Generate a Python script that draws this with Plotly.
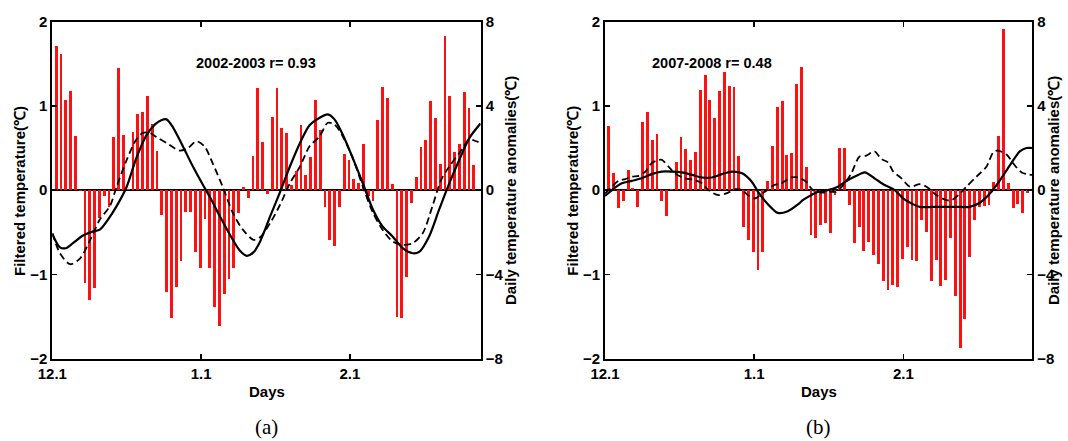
import plotly.graph_objects as go

# ---------------- data ----------------
tick_vals = [0, 31, 62]
tick_text = ["12.1", "1.1", "2.1"]

days = list(range(1, 89))

# Panel (a) 2002-2003 daily temperature anomalies (right axis, degC)
a_anom = [6.83, 6.46, 4.30, 4.73, 2.56, -0.06, -4.43, -5.22, -4.67, -1.33,
          -0.30, -0.80, 2.51, 5.79, 2.64, 0.04, 2.75, 3.63, 3.73, 4.49,
          3.16, 1.84, -1.19, -4.86, -6.08, -4.62, -3.35, -1.06, -1.06, -2.96,
          -3.72, -1.38, -3.72, -5.57, -6.46, -4.95, -4.24, -3.68, -1.10, 0.14,
          -0.38, 1.60, 4.86, 2.28, -0.18, 3.49, 4.87, 2.94, 2.70, 0.25,
          0.92, 3.08, 0.72, 1.57, 4.30, 2.86, -0.80, -2.37, -2.64, -0.78,
          1.71, 1.43, 0.52, 0.35, 2.17, -0.30, -0.54, 3.35, 4.90, 4.38,
          0.30, -6.02, -6.07, -4.11, -0.62, 0.62, 2.05, 2.37, 4.25, 3.41,
          1.24, 7.30, 4.49, 1.81, 2.18, 4.67, 3.90, 1.21]

# Panel (a) filtered temperature (left axis, degC)
a_solid_day = [0, 1.6, 2.8, 4.3, 6.4, 8.5, 9.9, 11.6, 13.4, 15.5, 17.5, 19.6,
               21.4, 22.7, 23.8, 25.2, 27.2, 29.3, 31.4, 32.8, 34.9, 37, 39.1,
               40.5, 41.9, 43.3, 45.4, 47.4, 49.5, 51.6, 53.6, 55.7, 57.4, 58.8,
               60.5, 62.6, 64.7, 66.8, 68.8, 70.9, 73, 75.1, 76.5, 78.5, 80.6,
               82.7, 84.8, 86.9, 89.2]
a_solid_val = [-0.52, -0.68, -0.69, -0.63, -0.54, -0.49, -0.47, -0.35, -0.19,
               0.04, 0.38, 0.65, 0.78, 0.83, 0.84, 0.74, 0.52, 0.28, 0.06,
               -0.08, -0.31, -0.53, -0.72, -0.78, -0.74, -0.61, -0.31, -0.03,
               0.28, 0.56, 0.77, 0.86, 0.90, 0.84, 0.66, 0.38, 0.08, -0.23,
               -0.43, -0.55, -0.69, -0.75, -0.73, -0.55, -0.23, 0.08, 0.36,
               0.62, 0.79]
a_dash_day = [0, 1.6, 3.7, 5.8, 7.9, 9.9, 12, 13.4, 15.5, 17.5, 18.9, 20.3,
              21.7, 23.8, 26.5, 28.3, 30, 31.7, 33.4, 35.5, 37.6, 39.7, 41.9,
              43.3, 45.4, 47.4, 49.5, 51.6, 53.6, 55.7, 57.4, 58.8, 60.5, 62.6,
              64.7, 66.8, 68.8, 70.9, 73, 75.1, 77.2, 79.2, 81, 82.7, 84.8,
              86.9, 88.3, 89.2]
a_dash_val = [-0.51, -0.75, -0.88, -0.81, -0.59, -0.35, -0.19, 0.04, 0.36,
              0.60, 0.68, 0.68, 0.63, 0.56, 0.47, 0.50, 0.58, 0.52, 0.32, 0.04,
              -0.27, -0.47, -0.59, -0.56, -0.39, -0.18, 0.08, 0.28, 0.52, 0.64,
              0.80, 0.78, 0.64, 0.38, 0.04, -0.27, -0.47, -0.61, -0.65, -0.63,
              -0.51, -0.19, 0.12, 0.28, 0.44, 0.60, 0.58, 0.56]

# Panel (b) 2007-2008 daily temperature anomalies (right axis, degC)
b_anom = [3.03, 0.81, -0.86, -0.54, 0.94, 0.10, -0.81, 3.25, 3.73, 2.40,
          2.68, -0.54, -1.21, 0.05, 1.33, 2.51, 1.95, 1.43, 1.81, 4.76,
          5.48, 4.30, 3.44, 4.73, 5.62, 4.96, 4.90, 1.63, -1.76, -2.37,
          -2.92, -3.79, -2.92, 0.43, 2.08, 3.94, 4.25, 1.67, 1.78, 5.05,
          5.84, 1.10, -2.14, -2.27, -1.65, -1.57, -2.05, -0.25, 2.00, 2.00,
          -0.71, -2.50, -1.74, -2.88, -2.46, -3.07, -3.50, -4.33, -4.75, -4.52,
          -4.60, -3.25, -2.71, -3.33, -3.38, -1.44, -1.97, -4.33, -3.31, -4.56,
          -4.27, -2.29, -5.02, -7.49, -6.12, -3.16, -1.41, -0.78, -0.77, -0.70,
          0.38, 2.56, 7.63, 0.35, -0.86, -0.66, -1.08, -0.14]

# Panel (b) filtered temperature (left axis, degC)
b_solid_day = [0, 1.45, 3.5, 5.6, 7.6, 9.7, 11.8, 13.9, 16, 18.1, 20.2, 22.2,
               24.3, 26.4, 28.5, 30.5, 31.8, 33.9, 35.9, 38, 40.1, 41.1, 42.2,
               44.3, 46.3, 48.4, 50.5, 52.6, 54, 56, 58.1, 60.2, 62, 64.1, 65.4,
               68.2, 71, 73.8, 75.8, 77.9, 80, 82.1, 84.2, 86.2, 87.6, 88.8]
b_solid_val = [-0.07, 0.0, 0.08, 0.11, 0.14, 0.19, 0.22, 0.22, 0.21, 0.18,
               0.15, 0.15, 0.19, 0.22, 0.20, 0.10, -0.02, -0.17, -0.27, -0.25,
               -0.17, -0.12, -0.08, -0.02, 0.0, 0.04, 0.12, 0.18, 0.21, 0.14,
               0.06, 0.0, -0.10, -0.17, -0.20, -0.20, -0.20, -0.20, -0.20,
               -0.15, -0.04, 0.12, 0.30, 0.46, 0.50, 0.50]
b_dash_day = [0, 1.45, 2.8, 4.2, 5.6, 7, 8.4, 9.7, 10.8, 11.8, 13.2, 14.5,
              16.6, 18.7, 20.2, 21.5, 23.6, 25.6, 27, 28.5, 29.7, 31.1, 33.2,
              35.2, 36.6, 38.7, 40.1, 41.8, 43.2, 44.9, 47, 48.1, 49.8, 51.2,
              52.9, 54.3, 56, 57.4, 58.8, 59.9, 61.6, 63.4, 65.4, 66.8, 68.9,
              71, 72, 73.8, 75.1, 77.2, 79.3, 80.7, 81.7, 83.5, 84.8, 86.6,
              88.8]
b_dash_val = [-0.04, 0.04, 0.11, 0.13, 0.16, 0.17, 0.22, 0.32, 0.35, 0.36,
              0.28, 0.20, 0.14, 0.12, 0.08, 0.0, -0.06, -0.03, 0.01, 0.0,
              -0.06, -0.10, -0.02, 0.06, 0.08, 0.15, 0.15, 0.10, 0.0, -0.03,
              -0.02, -0.02, 0.08, 0.20, 0.40, 0.41, 0.46, 0.37, 0.33, 0.22,
              0.14, 0.04, 0.07, 0.04, -0.06, -0.12, -0.12, -0.04, 0.04, 0.16,
              0.28, 0.45, 0.47, 0.42, 0.32, 0.21, 0.18]

panel_titles = ["2002-2003 r= 0.93", "2007-2008 r= 0.48"]
panel_letters = ["(a)", "(b)"]
left_title = "Filtered temperature(℃)"
right_title = "Daily temperature anomalies(℃)"
x_title = "Days"

# ---------------- figure ----------------
W, H = 1068, 441
FONT = "Arial, Liberation Sans, sans-serif"
bold = dict(family=FONT, size=15, color="black", weight="bold")

fig = go.Figure()

BAR_W = 0.6
BAR_OFF = -0.5
RED = "#ff1010"

# panel a
fig.add_trace(go.Bar(x=days, y=a_anom, width=BAR_W, offset=BAR_OFF,
                     marker=dict(color=RED, line=dict(width=0)),
                     xaxis="x", yaxis="y"))
fig.add_trace(go.Scatter(x=a_dash_day, y=a_dash_val, mode="lines",
                         line=dict(color="black", width=1.8, dash="7px,4px", shape="spline", smoothing=0.8),
                         xaxis="x", yaxis="y2"))
fig.add_trace(go.Scatter(x=a_solid_day, y=a_solid_val, mode="lines",
                         line=dict(color="black", width=2.2, shape="spline", smoothing=0.8),
                         xaxis="x", yaxis="y2"))
# panel b
fig.add_trace(go.Bar(x=days, y=b_anom, width=BAR_W, offset=BAR_OFF,
                     marker=dict(color=RED, line=dict(width=0)),
                     xaxis="x2", yaxis="y3"))
fig.add_trace(go.Scatter(x=b_dash_day, y=b_dash_val, mode="lines",
                         line=dict(color="black", width=1.8, dash="7px,4px", shape="spline", smoothing=0.8),
                         xaxis="x2", yaxis="y4"))
fig.add_trace(go.Scatter(x=b_solid_day, y=b_solid_val, mode="lines",
                         line=dict(color="black", width=2.2, shape="spline", smoothing=0.8),
                         xaxis="x2", yaxis="y4"))

ydom = [1 - 358.5 / H, 1 - 21.7 / H]
xdom_a = [52.3 / W, 480.7 / W]
xdom_b = [605.0 / W, 1032.3 / W]

def xaxis_cfg(dom, rng):
    return dict(domain=dom, range=rng, tickvals=tick_vals, ticktext=tick_text,
                ticks="inside", ticklen=5, tickwidth=1.5, tickcolor="black",
                showline=True, linecolor="black", linewidth=2, mirror="ticks",
                showgrid=False, zeroline=False, tickfont=bold, fixedrange=True,
                automargin=False)

def ybar_cfg(anchor):
    return dict(domain=ydom, range=[-8, 8], tickvals=[-8, -4, 0, 4, 8],
                side="right", anchor=anchor, ticks="inside", ticklen=5,
                tickwidth=1.5, tickcolor="black", showline=True,
                linecolor="black", linewidth=2, showgrid=False,
                zeroline=True, zerolinecolor="black", zerolinewidth=1.5,
                tickfont=bold, automargin=False)

def yline_cfg(overlay, anchor):
    return dict(range=[-2, 2], tickvals=[-2, -1, 0, 1, 2], side="left",
                overlaying=overlay, anchor=anchor, ticks="inside", ticklen=5,
                tickwidth=1.5, tickcolor="black", showline=True,
                linecolor="black", linewidth=2, showgrid=False, zeroline=False,
                tickfont=bold, automargin=False)

fig.update_layout(
    template="none",
    width=W, height=H, autosize=False,
    margin=dict(l=0, r=0, t=0, b=0, pad=0),
    paper_bgcolor="white", plot_bgcolor="white",
    showlegend=False, bargap=0,
    xaxis=xaxis_cfg(xdom_a, [0, 89.25]),
    xaxis2=xaxis_cfg(xdom_b, [0, 88.8]),
    yaxis=ybar_cfg("x"),
    yaxis2=yline_cfg("y", "x"),
    yaxis3=ybar_cfg("x2"),
    yaxis4=yline_cfg("y3", "x2"),
)

ann = []
yc = 1 - 191 / H
for i, (xl, xr, xc, xt) in enumerate([(19, 510, 266.5, 256.2), (571.7, 1053, 818.6, 711.7)]):
    ann.append(dict(x=xl / W, y=yc, xref="paper", yref="paper", text=left_title,
                    textangle=-90, showarrow=False, font=bold,
                    xanchor="center", yanchor="middle"))
    ann.append(dict(x=xr / W, y=yc, xref="paper", yref="paper", text=right_title,
                    textangle=-90, showarrow=False, font=bold,
                    xanchor="center", yanchor="middle"))
    ann.append(dict(x=xc / W, y=1 - 391 / H, xref="paper", yref="paper", text=x_title,
                    showarrow=False, font=bold, xanchor="center", yanchor="middle"))
    ann.append(dict(x=xc / W, y=1 - 427 / H, xref="paper", yref="paper", text=panel_letters[i],
                    showarrow=False,
                    font=dict(family="Liberation Serif, Times New Roman, serif", size=21, color="black"),
                    xanchor="center", yanchor="middle"))
    ann.append(dict(x=xt / W, y=1 - 63.3 / H, xref="paper", yref="paper", text=panel_titles[i],
                    showarrow=False, font=dict(family=FONT, size=14.5, color="black", weight="bold"),
                    xanchor="center", yanchor="middle"))
fig.update_layout(annotations=ann)

fig.write_html("out.html",
               config={"displayModeBar": False, "staticPlot": True},
               post_script="document.body.style.margin='0';document.body.style.overflow='hidden';")
